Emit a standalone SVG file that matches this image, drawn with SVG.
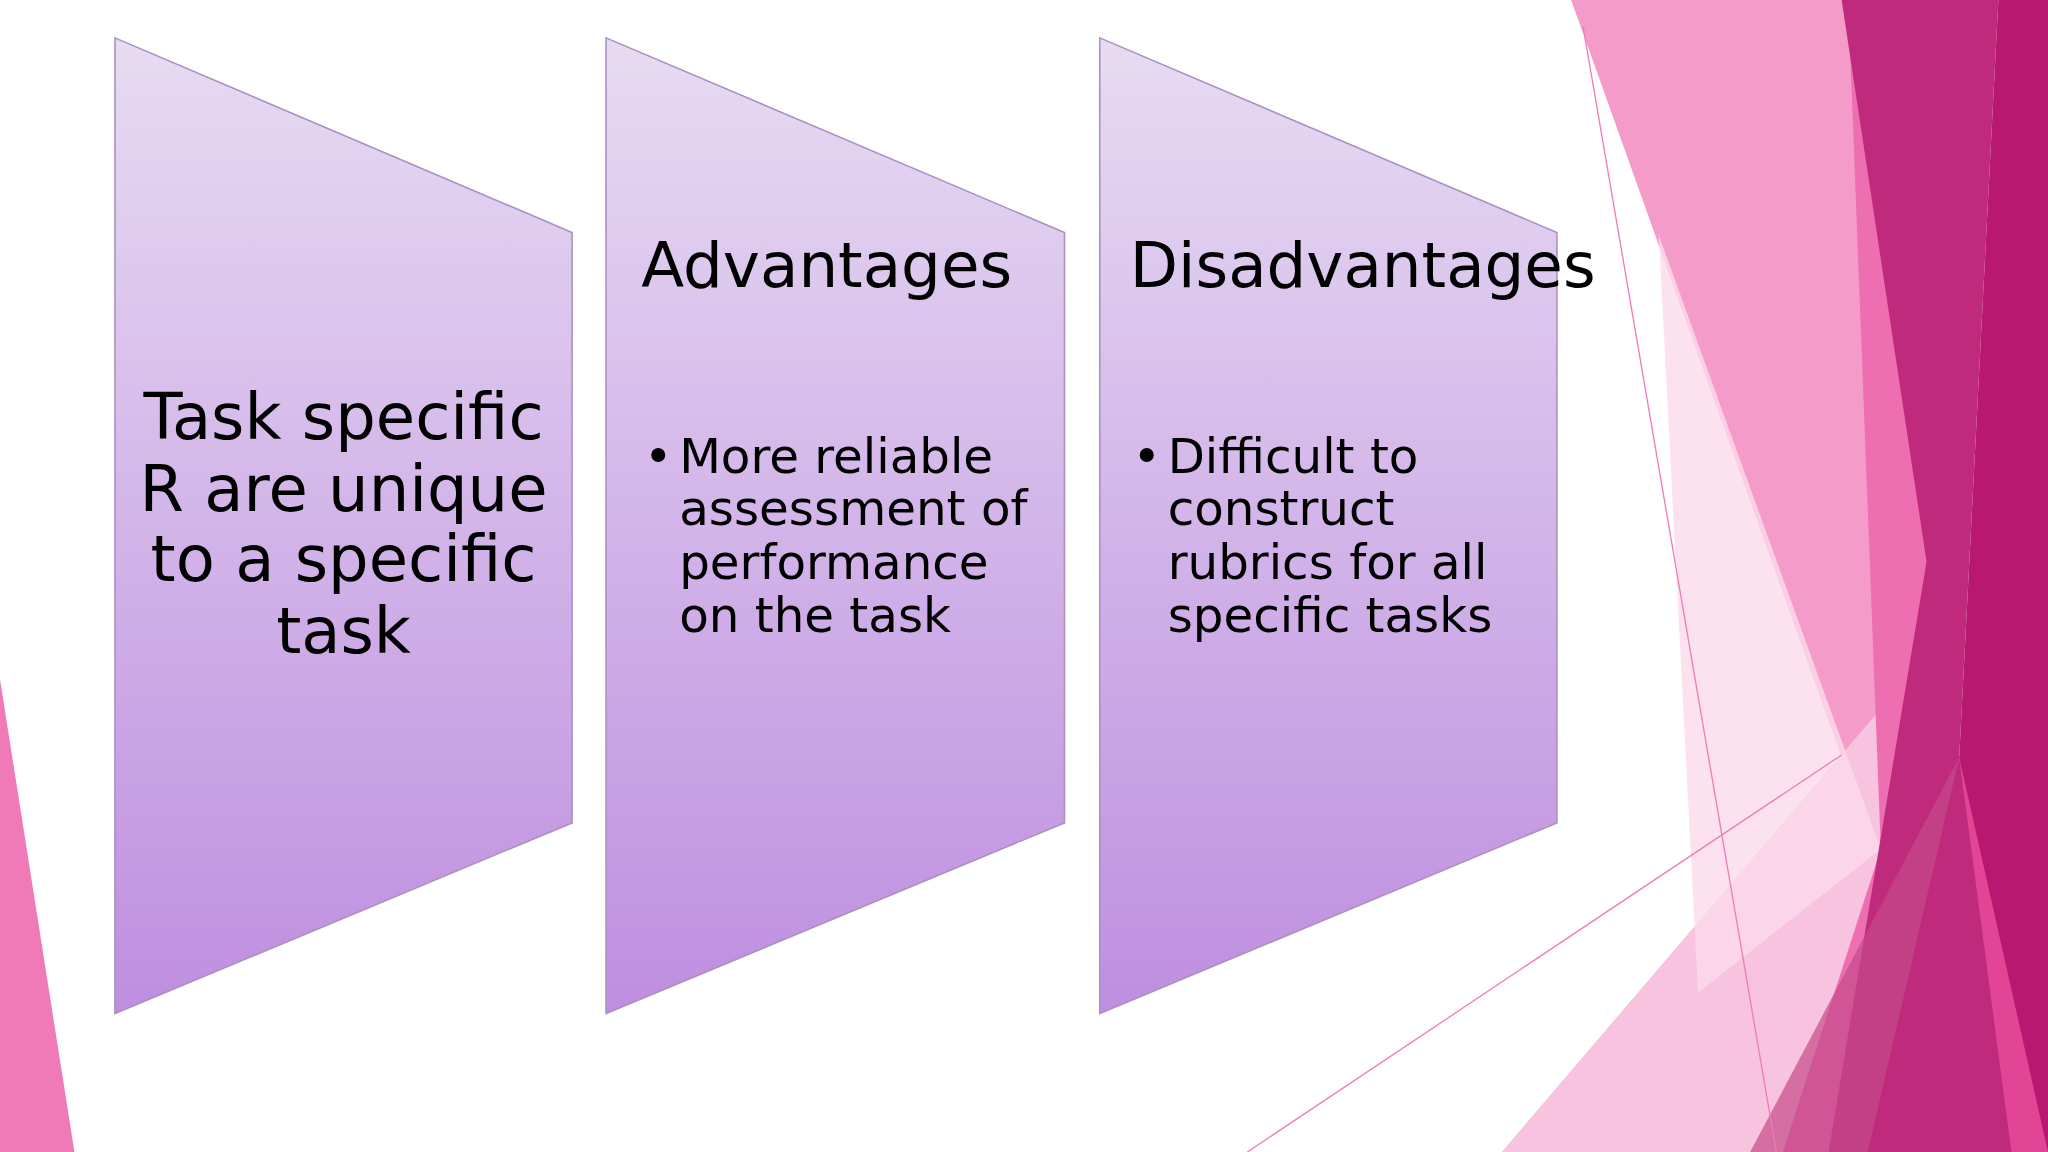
<svg xmlns="http://www.w3.org/2000/svg" width="2048" height="1152" viewBox="0 0 2048 1152">
<defs>
<linearGradient id="pg" x1="0" y1="0" x2="0" y2="1">
<stop offset="0" stop-color="#e7dbf2"/><stop offset="1" stop-color="#be8ee0"/>
</linearGradient>
<style>
.panel{fill:url(#pg);stroke:#a990bf;stroke-width:1.2}
.t{font-family:"DejaVu Sans","Noto Sans",sans-serif;fill:#000}
.h{font-size:48px}
.b{font-size:37px}
.c{font-size:49px;text-anchor:middle}
</style>
</defs>
<rect width="2048" height="1152" fill="#fff"/>
<g transform="scale(1.30612)">
<g id="background">
<polygon points="0,520 0,882 57,882" fill="#f07ab8"/>
<polygon points="1203,0 1415,0 1455,520 1440,650 1365,882 1150,882 1455,525 1435,650" fill="#f49bca"/>
<polygon points="1203,0 1415,0 1470,440 1440,650" fill="#f49bca"/>
<polygon points="1455,525 1440,650 1365,882 1150,882" fill="#f7c3de"/>
<polygon points="1270,180 1440,650 1300,760" fill="#fbdbeb" opacity="0.8"/>
<polygon points="1415,0 1475,420 1500,580 1430,882 1365,882 1440,650" fill="#ee6fb1"/>
<polygon points="1410,0 1530,0 1500,580 1568,882 1400,882 1475,430" fill="#c02a7c"/>
<polygon points="1500,580 1568,470 1568,882 1540,882" fill="#e24596"/>
<polygon points="1530,0 1568,0 1568,882 1500,580" fill="#b8186f"/>
<polygon points="1500,580 1340,882 1430,882" fill="#c54a8a" opacity="0.7"/>
<line x1="1212" y1="20" x2="1360" y2="882" stroke="#f07ab8" stroke-width="1"/>
<line x1="955" y1="882" x2="1410" y2="578" stroke="#f07ab8" stroke-width="1"/>
</g>
<g id="panel-task">
<polygon class="panel" points="88,29 438,178 438,630 88,776"/>
<text class="t c" x="263" y="336">Task specific</text>
<text class="t c" x="263" y="391">R are unique</text>
<text class="t c" x="263" y="445">to a specific</text>
<text class="t c" x="263" y="500">task</text>
</g>
<g id="panel-advantages">
<polygon class="panel" points="464,29 815,178 815,630 464,776"/>
<text class="t h" x="491" y="220">Advantages</text>
<text class="t b" x="493" y="362">•</text>
<text class="t b" x="520" y="362">More reliable</text>
<text class="t b" x="520" y="402">assessment of</text>
<text class="t b" x="520" y="443">performance</text>
<text class="t b" x="520" y="484">on the task</text>
</g>
<g id="panel-disadvantages">
<polygon class="panel" points="842,29 1192,178 1192,630 842,776"/>
<text class="t h" x="865" y="220">Disadvantages</text>
<text class="t b" x="867" y="362">•</text>
<text class="t b" x="894" y="362">Difficult to</text>
<text class="t b" x="894" y="402">construct</text>
<text class="t b" x="894" y="443">rubrics for all</text>
<text class="t b" x="894" y="484">specific tasks</text>
</g>
<g id="connectors"/>
</g>
</svg>
